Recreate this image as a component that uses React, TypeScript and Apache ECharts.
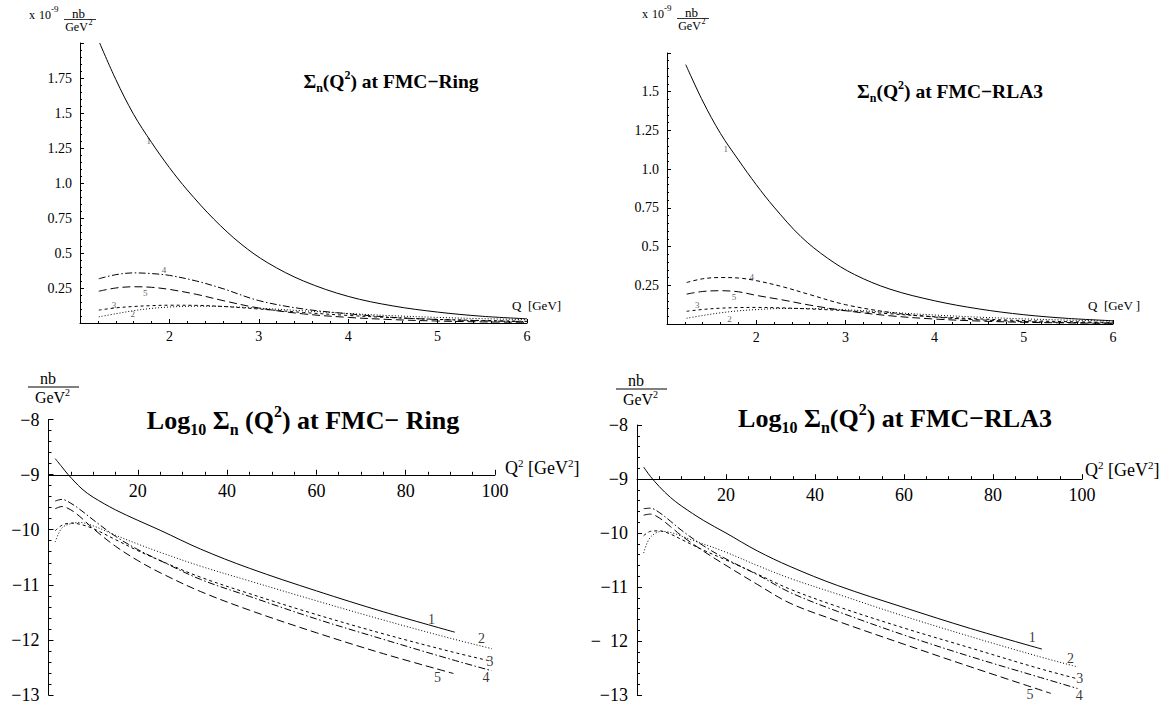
import React, { useEffect, useRef } from "react";
import * as echarts from "echarts";

const FONT = '"Liberation Serif", "Times New Roman", serif';

// ---------- Top-left: Σn(Q²) at FMC-Ring  (x 10^-9 nb/GeV² vs Q [GeV]) ----------
const TL_Q1 = [1.22, 1.4, 1.6, 1.8, 2.0, 2.2, 2.5, 2.8, 3.1, 3.5, 4.0, 4.5, 5.0, 5.5, 6.0];
const TL_C1 = [2.0, 1.74, 1.49, 1.29, 1.11, 0.95, 0.74, 0.565, 0.43, 0.3, 0.19, 0.122, 0.078, 0.048, 0.03];
const TL_Q = [1.21, 1.4, 1.6, 1.8, 2.0, 2.3, 2.6, 3.0, 3.5, 4.0, 4.5, 5.0, 5.5, 6.0];
const TL_C2 = [0.044, 0.066, 0.088, 0.104, 0.114, 0.12, 0.118, 0.106, 0.087, 0.068, 0.052, 0.04, 0.031, 0.024];
const TL_C3 = [0.092, 0.108, 0.118, 0.124, 0.127, 0.126, 0.118, 0.1, 0.075, 0.054, 0.038, 0.026, 0.018, 0.012];
const TL_C4 = [0.316, 0.345, 0.358, 0.353, 0.34, 0.3, 0.245, 0.16, 0.1, 0.066, 0.04, 0.025, 0.016, 0.01];
const TL_C5 = [0.227, 0.25, 0.259, 0.255, 0.24, 0.205, 0.16, 0.107, 0.065, 0.04, 0.024, 0.014, 0.008, 0.005];
const TL_LABEL_X = [1.77, 1.59, 1.38, 1.94, 1.73];
const TL_LABEL_Y = [1.3, 0.061, 0.132, 0.377, 0.216];

// ---------- Top-right: Σn(Q²) at FMC-RLA3 ----------
const TR_Q1 = [1.21, 1.4, 1.6, 1.8, 2.0, 2.2, 2.5, 2.8, 3.1, 3.5, 4.0, 4.5, 5.0, 5.5, 6.0];
const TR_C1 = [1.675, 1.44, 1.23, 1.06, 0.9, 0.755, 0.565, 0.425, 0.32, 0.225, 0.15, 0.097, 0.06, 0.036, 0.021];
const TR_Q = [1.22, 1.4, 1.6, 1.8, 2.0, 2.3, 2.6, 3.0, 3.5, 4.0, 4.5, 5.0, 5.5, 6.0];
const TR_C2 = [0.037, 0.055, 0.072, 0.085, 0.093, 0.1, 0.1, 0.092, 0.075, 0.058, 0.044, 0.033, 0.025, 0.019];
const TR_C3 = [0.082, 0.094, 0.102, 0.106, 0.107, 0.104, 0.097, 0.086, 0.066, 0.047, 0.033, 0.022, 0.015, 0.01];
const TR_C4 = [0.268, 0.292, 0.3, 0.297, 0.28, 0.24, 0.19, 0.125, 0.075, 0.045, 0.027, 0.016, 0.01, 0.006];
const TR_C5 = [0.193, 0.21, 0.215, 0.208, 0.185, 0.155, 0.122, 0.086, 0.053, 0.032, 0.019, 0.011, 0.007, 0.004];
const TR_LABEL_X = [1.66, 1.7, 1.34, 1.95, 1.75];
const TR_LABEL_Y = [1.127, 0.035, 0.125, 0.305, 0.174];

// ---------- Bottom-left: Log10 Σn(Q²) at FMC-Ring vs Q² [GeV²] ----------
const LL_X1 = [1.5, 3, 4.4, 7.5, 10, 15, 20, 25, 34, 45, 60, 75, 91];
const LL_C1 = [-8.71, -8.86, -9.0, -9.26, -9.41, -9.64, -9.83, -10.01, -10.35, -10.7, -11.11, -11.49, -11.86];
const LL_X = [1.5, 3, 5, 7, 10, 15, 20, 25, 34, 45, 60, 75, 90, 99.3];
const LL_C2 = [-10.22, -9.97, -9.89, -9.87, -9.93, -10.1, -10.26, -10.41, -10.66, -10.93, -11.29, -11.64, -11.97, -12.16];
const LL_C3 = [-10.02, -9.92, -9.88, -9.9, -9.98, -10.18, -10.38, -10.56, -10.86, -11.16, -11.54, -11.89, -12.21, -12.39];
const LL_C4 = [-9.48, -9.45, -9.52, -9.63, -9.82, -10.12, -10.36, -10.56, -10.9, -11.21, -11.62, -11.99, -12.35, -12.56];
const LL_X5 = [1.5, 3, 5, 7, 10, 15, 20, 25, 34, 45, 60, 75, 90.7];
const LL_C5 = [-9.62, -9.58, -9.64, -9.76, -9.98, -10.3, -10.56, -10.78, -11.12, -11.46, -11.87, -12.25, -12.61];
const LL_LABEL_X = [85.8, 97.0, 98.9, 98.0, 87.1];
const LL_LABEL_Y = [-11.63, -11.98, -12.4, -12.68, -12.68];

// ---------- Bottom-right: Log10 Σn(Q²) at FMC-RLA3 ----------
const LR_X1 = [1.5, 3, 5, 7.5, 10, 15, 20, 27, 34.4, 45, 60, 75, 91];
const LR_C1 = [-8.78, -8.95, -9.14, -9.34, -9.5, -9.77, -10.0, -10.33, -10.62, -10.97, -11.38, -11.77, -12.15];
const LR_X2 = [1.5, 3, 5.6, 8, 12, 19.5, 27, 34.4, 45, 60, 75, 90, 99];
const LR_C2 = [-10.37, -10.08, -9.97, -10.0, -10.12, -10.34, -10.6, -10.84, -11.13, -11.54, -11.92, -12.28, -12.48];
const LR_X = [1.5, 3, 5, 7.5, 10, 15, 20, 27, 34.4, 45, 60, 75, 90, 99];
const LR_C3 = [-10.05, -9.97, -9.96, -10.02, -10.12, -10.32, -10.5, -10.76, -11.04, -11.36, -11.76, -12.13, -12.5, -12.7];
const LR_C4 = [-9.55, -9.54, -9.62, -9.78, -9.95, -10.24, -10.48, -10.77, -11.1, -11.45, -11.89, -12.29, -12.66, -12.88];
const LR_X5 = [1.5, 3, 5, 7.5, 10, 15, 20, 27, 34.4, 45, 60, 75, 93];
const LR_C5 = [-9.67, -9.65, -9.72, -9.88, -10.05, -10.34, -10.6, -10.95, -11.3, -11.63, -12.06, -12.48, -12.97];
const LR_LABEL_X = [88.8, 97.4, 99.5, 99.4, 88.3];
const LR_LABEL_Y = [-11.94, -12.32, -12.7, -13.01, -12.99];

const CURVE_NAMES = ["1", "2", "3", "4", "5"];
const TOP_X_TICKS = { min: 1, max: 6, interval: 1 };
const TOP_LEFT_Y = { min: 0, max: 2, interval: 0.25 };
const TOP_RIGHT_Y = { min: 0, max: 1.75, interval: 0.25 };
const LOG_Y = { min: -13, max: -8, interval: 1, cross: -9 };
const LOG_X = { min: 0, max: 100, interval: 20 };

// dash patterns
const SOLID: any = "solid";
const DOTTED = [1, 2];
const SHORT_DASH = [3, 3];
const DASH_DOT = [7, 2.5, 1.5, 2.5];
const LONG_DASH = [8, 4];
const MED_DASH = [4, 3];

const GRIDS = [
  { left: 80, top: 43, width: 447, height: 280 }, // TL
  { left: 667, top: 53, width: 446, height: 271 }, // TR
  { left: 48.5, top: 419.5, width: 446.5, height: 276.5 }, // LL data
  { left: 637, top: 425, width: 445, height: 271 }, // LR data
];

function crossFrac() {
  return (LOG_Y.max - LOG_Y.cross) / (LOG_Y.max - LOG_Y.min);
}

function lineSeries(xs: number[], ys: number[], idx: number, dash: any) {
  return {
    type: "line",
    xAxisIndex: idx,
    yAxisIndex: idx,
    data: xs.map((x, i) => [x, ys[i]]),
    symbol: "none",
    showSymbol: false,
    smooth: 0.35,
    silent: true,
    color: "#000",
    lineStyle: { color: "#000", width: 1, type: dash },
  };
}

function labelSeries(xs: number[], ys: number[], idx: number, size: number, col: string) {
  return {
    type: "scatter",
    xAxisIndex: idx,
    yAxisIndex: idx,
    symbolSize: 1,
    clip: false,
    silent: true,
    color: col,
    itemStyle: { color: "rgba(255,255,255,0)" },
    data: xs.map((x, i) => ({ value: [x, ys[i]], name: CURVE_NAMES[i] })),
    label: {
      show: true,
      position: [0.5, 0.5],
      align: "center",
      verticalAlign: "middle",
      formatter: "{b}",
      fontFamily: FONT,
      fontSize: size,
      color: col,
    },
  };
}

const axisLine = { show: true, onZero: false, lineStyle: { color: "#000", width: 1 } };

function valAxis(gridIndex: number, cfg: any, extra: any) {
  return {
    type: "value",
    gridIndex,
    min: cfg.min,
    max: cfg.max,
    interval: cfg.interval,
    axisLine,
    splitLine: { show: false },
    ...extra,
  };
}

function topXAxis(gridIndex: number) {
  return valAxis(gridIndex, TOP_X_TICKS, {
    axisTick: { show: true, inside: true, length: 4, lineStyle: { color: "#000" } },
    minorTick: { show: true, splitNumber: 5, length: 2, lineStyle: { color: "#000" } },
    axisLabel: { showMinLabel: false, fontFamily: FONT, fontSize: 14, color: "#000", margin: 6 },
  });
}

function topYAxis(gridIndex: number, cfg: any) {
  return valAxis(gridIndex, cfg, {
    axisTick: { show: true, inside: true, length: 4, lineStyle: { color: "#000" } },
    minorTick: { show: true, splitNumber: 5, length: 2, lineStyle: { color: "#000" } },
    axisLabel: {
      showMinLabel: false,
      showMaxLabel: false,
      fontFamily: FONT,
      fontSize: 14,
      color: "#000",
      margin: 8,
      formatter: (v: number) => (v === 1 ? "1.0" : String(v)),
    },
  });
}

function logYAxis(gridIndex: number, odd12: boolean) {
  return valAxis(gridIndex, LOG_Y, {
    axisTick: { show: true, inside: true, length: 5, lineStyle: { color: "#000" } },
    minorTick: { show: true, splitNumber: 5, length: 3, lineStyle: { color: "#000" } },
    axisLabel: {
      fontFamily: FONT,
      fontSize: 18,
      color: "#000",
      margin: 9,
      formatter: (v: number) => (odd12 && v === -12 ? "\u2212  12" : "\u2212" + Math.abs(v)),
    },
  });
}

function logXAxis(gridIndex: number, visible: boolean) {
  return valAxis(gridIndex, LOG_X, {
    show: visible,
    position: "bottom",
    axisTick: { show: true, inside: true, length: 5, lineStyle: { color: "#000" } },
    minorTick: { show: true, splitNumber: 4, length: 3, lineStyle: { color: "#000" } },
    axisLabel: { showMinLabel: false, fontFamily: FONT, fontSize: 18, color: "#000", margin: 7 },
  });
}

function txt(x: number, y: number, text: string, size: number, align = "center", extra: any = {}) {
  return {
    type: "text",
    x,
    y,
    silent: true,
    style: {
      text,
      fontFamily: FONT,
      fontSize: size,
      fill: "#000",
      align,
      verticalAlign: "middle",
      ...extra,
    },
  };
}

function richTitle(x: number, y: number, text: string, size: number) {
  const sub = Math.round(size * 0.6);
  const lh = Math.round(size * 1.3);
  const base = { fontFamily: FONT, fontWeight: "bold", fontSize: size, lineHeight: lh, verticalAlign: "middle", fill: "#000" };
  return {
    type: "text",
    x,
    y,
    silent: true,
    style: {
      text,
      align: "center",
      verticalAlign: "middle",
      fontFamily: FONT,
      fontWeight: "bold",
      fontSize: size,
      fill: "#000",
      rich: {
        b: base,
        s: { fontFamily: FONT, fontWeight: "bold", fontSize: sub, lineHeight: sub, verticalAlign: "bottom", fill: "#000" },
        p: { fontFamily: FONT, fontWeight: "bold", fontSize: sub, lineHeight: sub, verticalAlign: "top", fill: "#000" },
      },
    },
  };
}

function topUnit(x0: number, y0: number) {
  // "x 10^-9  nb / GeV^2"
  return [
    txt(x0, y0 + 1, "x", 12),
    txt(x0 + 7, y0 + 1, "10", 12, "left"),
    txt(x0 + 19, y0 - 5, "-9", 9, "left"),
    txt(x0 + 46.5, y0 - 1, "nb", 13),
    { type: "line", silent: true, shape: { x1: x0 + 32, y1: y0 + 5.5, x2: x0 + 64, y2: y0 + 5.5 }, style: { stroke: "#000", lineWidth: 0.8 } },
    txt(x0 + 44.5, y0 + 12.5, "GeV", 12),
    txt(x0 + 56.5, y0 + 8.5, "2", 8, "left"),
  ];
}

function bottomUnit(cx: number, y0: number) {
  return [
    txt(cx, y0, "nb", 16),
    { type: "line", silent: true, shape: { x1: cx - 20, y1: y0 + 9, x2: cx + 31, y2: y0 + 9 }, style: { stroke: "#000", lineWidth: 1 } },
    txt(cx + 2, y0 + 19, "GeV", 16),
    txt(cx + 17, y0 + 14, "2", 10, "left"),
  ];
}

function q2Name(x: number, y: number) {
  return {
    type: "text",
    x,
    y,
    silent: true,
    style: {
      text: "{b|Q}{p|2}{b| [GeV}{p|2}{b|]}",
      align: "left",
      verticalAlign: "middle",
      fontFamily: FONT,
      fontSize: 18,
      fill: "#000",
      rich: {
        b: { fontFamily: FONT, fontSize: 18, lineHeight: 22, verticalAlign: "middle", fill: "#000" },
        p: { fontFamily: FONT, fontSize: 11, lineHeight: 11, verticalAlign: "top", fill: "#000" },
      },
    },
  };
}

export default function App() {
  const ref = useRef<HTMLDivElement>(null);

  useEffect(() => {
    if (!ref.current) return;
    const chart = echarts.init(ref.current, undefined, { renderer: "svg" });
    const f = crossFrac();
    const gLLx = { ...GRIDS[2], height: GRIDS[2].height * f };
    const gLRx = { ...GRIDS[3], height: GRIDS[3].height * f };

    const option: any = {
      animation: false,
      backgroundColor: "#fff",
      color: ["#000"],
      grid: [GRIDS[0], GRIDS[1], GRIDS[2], GRIDS[3], gLLx, gLRx],
      xAxis: [
        topXAxis(0),
        topXAxis(1),
        logXAxis(2, false),
        logXAxis(3, false),
        logXAxis(4, true),
        logXAxis(5, true),
      ],
      yAxis: [
        topYAxis(0, TOP_LEFT_Y),
        topYAxis(1, TOP_RIGHT_Y),
        logYAxis(2, false),
        logYAxis(3, true),
        { type: "value", gridIndex: 4, show: false, min: 0, max: 1 },
        { type: "value", gridIndex: 5, show: false, min: 0, max: 1 },
      ],
      series: [
        lineSeries(TL_Q1, TL_C1, 0, SOLID),
        lineSeries(TL_Q, TL_C2, 0, DOTTED),
        lineSeries(TL_Q, TL_C3, 0, SHORT_DASH),
        lineSeries(TL_Q, TL_C4, 0, DASH_DOT),
        lineSeries(TL_Q, TL_C5, 0, LONG_DASH),
        labelSeries(TL_LABEL_X, TL_LABEL_Y, 0, 9, "#333"),

        lineSeries(TR_Q1, TR_C1, 1, SOLID),
        lineSeries(TR_Q, TR_C2, 1, DOTTED),
        lineSeries(TR_Q, TR_C3, 1, SHORT_DASH),
        lineSeries(TR_Q, TR_C4, 1, MED_DASH),
        lineSeries(TR_Q, TR_C5, 1, LONG_DASH),
        labelSeries(TR_LABEL_X, TR_LABEL_Y, 1, 9, "#333"),

        lineSeries(LL_X1, LL_C1, 2, SOLID),
        lineSeries(LL_X, LL_C2, 2, DOTTED),
        lineSeries(LL_X, LL_C3, 2, SHORT_DASH),
        lineSeries(LL_X, LL_C4, 2, DASH_DOT),
        lineSeries(LL_X5, LL_C5, 2, LONG_DASH),
        labelSeries(LL_LABEL_X, LL_LABEL_Y, 2, 14, "#000"),

        lineSeries(LR_X1, LR_C1, 3, SOLID),
        lineSeries(LR_X2, LR_C2, 3, DOTTED),
        lineSeries(LR_X, LR_C3, 3, SHORT_DASH),
        lineSeries(LR_X, LR_C4, 3, DASH_DOT),
        lineSeries(LR_X5, LR_C5, 3, LONG_DASH),
        labelSeries(LR_LABEL_X, LR_LABEL_Y, 3, 14, "#000"),
      ],
      graphic: [
        ...topUnit(32, 14),
        ...topUnit(645, 13),
        ...bottomUnit(48, 378),
        ...bottomUnit(636, 380),
        richTitle(391, 81, "{b|\u03a3}{s|n}{b|(Q}{p|2}{b|) at FMC\u2212Ring}", 19.5),
        richTitle(950, 91, "{b|\u03a3}{s|n}{b|(Q}{p|2}{b|) at FMC\u2212RLA3}", 19.5),
        richTitle(303, 420, "{b|Log}{s|10}{b| \u03a3}{s|n}{b| (Q}{p|2}{b|) at FMC\u2212 Ring}", 26),
        richTitle(895, 418, "{b|Log}{s|10}{b| \u03a3}{s|n}{b|(Q}{p|2}{b|) at FMC\u2212RLA3}", 26),
        txt(512, 305, "Q  [GeV]", 13, "left"),
        txt(1088, 305, "Q  [GeV ]", 13, "left"),
        q2Name(505, 468),
        q2Name(1085, 470),
      ],
    };
    chart.setOption(option);
    return () => chart.dispose();
  }, []);

  return (
    <div
      ref={ref}
      style={{ position: "fixed", left: 0, top: 0, width: 1160, height: 704, background: "#fff" }}
    />
  );
}
